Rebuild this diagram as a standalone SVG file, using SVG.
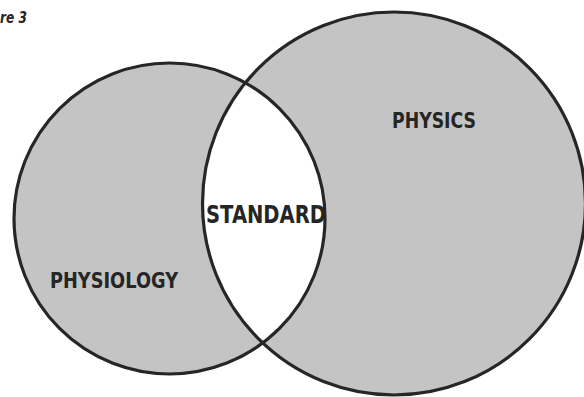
<svg xmlns="http://www.w3.org/2000/svg" width="584" height="397" viewBox="0 0 584 397">
  <style>
    .fill { fill: #c5c5c5; }
    .ring { fill: none; stroke: #262626; stroke-width: 3.2; }
    .lbl { font-family: "DejaVu Sans", "Liberation Sans", sans-serif; font-weight: bold; fill: #252525; }
  </style>
  <defs>
    <clipPath id="clipLeft">
      <circle cx="169.5" cy="218.5" r="155.5"/>
    </clipPath>
    <filter id="grain" x="0" y="0" width="100%" height="100%">
      <feTurbulence type="fractalNoise" baseFrequency="0.9" numOctaves="2" seed="3" result="n"/>
      <feColorMatrix in="n" type="matrix" values="0 0 0 0 0.5  0 0 0 0 0.5  0 0 0 0 0.5  0 0 0 0.12 0" result="g"/>
      <feComposite in="g" in2="SourceGraphic" operator="in" result="gm"/>
      <feMerge><feMergeNode in="SourceGraphic"/><feMergeNode in="gm"/></feMerge>
    </filter>
  </defs>
  <rect width="584" height="397" fill="#ffffff"/>
  <g id="physiology-area" filter="url(#grain)">
    <circle class="fill" cx="169.5" cy="218.5" r="155.5"/>
  </g>
  <g id="physics-area" filter="url(#grain)">
    <circle class="fill" cx="394" cy="203.5" r="191.5"/>
  </g>
  <g id="standard-area">
    <circle cx="394" cy="203.5" r="191.5" fill="#ffffff" clip-path="url(#clipLeft)"/>
  </g>
  <g id="outlines">
    <circle class="ring" cx="169.5" cy="218.5" r="155.5"/>
    <circle class="ring" cx="394" cy="203.5" r="191.5"/>
  </g>
  <g id="labels">
    <text class="lbl" x="0" y="23" font-size="15" font-style="italic" textLength="27" lengthAdjust="spacingAndGlyphs">re 3</text>
    <text class="lbl" x="392" y="128" font-size="20.5" textLength="84" lengthAdjust="spacingAndGlyphs">PHYSICS</text>
    <text class="lbl" x="206" y="223" font-size="25" textLength="120" lengthAdjust="spacingAndGlyphs">STANDARD</text>
    <text class="lbl" x="50" y="288" font-size="22" textLength="128" lengthAdjust="spacingAndGlyphs">PHYSIOLOGY</text>
  </g>
</svg>
